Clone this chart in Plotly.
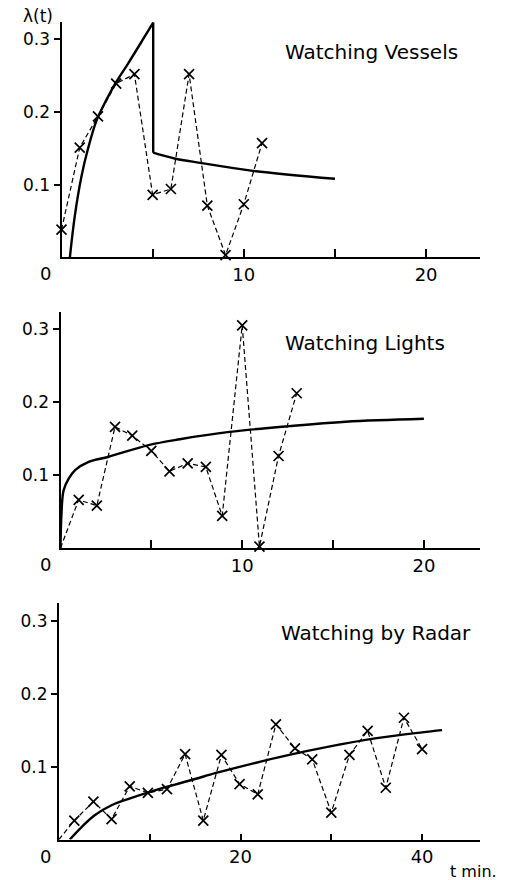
import plotly.graph_objects as go

W, H = 507, 880

# ---------------- data ----------------
# Watching Vessels
vessels_t = [0, 1, 2, 3, 4, 5, 6, 7, 8, 9, 10, 11]
vessels_obs = [0.038, 0.151, 0.194, 0.239, 0.252, 0.086, 0.094, 0.252, 0.071, 0.003, 0.073, 0.157]
vessels_rise_t = [0.46, 0.73, 1.1, 1.46, 1.92, 2.47, 2.97, 3.66, 4.4, 5.03]
vessels_rise_y = [0.0, 0.057, 0.112, 0.150, 0.188, 0.217, 0.240, 0.267, 0.297, 0.323]
vessels_drop_t = [5.03, 5.03]
vessels_drop_y = [0.323, 0.144]
vessels_decay_t = [5.03, 6.2, 7.6, 10.5, 15.0]
vessels_decay_y = [0.144, 0.136, 0.130, 0.119, 0.108]

# Watching Lights
lights_t = [0, 1, 2, 3, 3.95, 5, 6, 7, 8, 8.9, 10, 10.95, 12, 13]
lights_obs = [0.0, 0.066, 0.058, 0.166, 0.154, 0.133, 0.105, 0.116, 0.111, 0.044, 0.305, 0.002, 0.126, 0.212]
lights_marked = [False] + [True] * 13
lights_model_t = [0, 0.05, 0.17, 0.45, 0.82, 1.55, 2.65, 4.85, 6.57, 9.3, 12.6, 15.7, 20.0]
lights_model_y = [0.0, 0.045, 0.079, 0.095, 0.107, 0.118, 0.125, 0.141, 0.149, 0.159, 0.167, 0.173, 0.177]

# Watching by Radar
radar_t = [0, 1.7, 3.8, 5.8, 7.8, 9.8, 11.9, 13.9, 15.9, 17.9, 19.9, 21.9, 23.9, 26, 27.9, 30, 32, 34, 36, 38, 40]
radar_obs = [0.0, 0.026, 0.052, 0.028, 0.073, 0.064, 0.069, 0.117, 0.026, 0.116, 0.076, 0.062,
             0.158, 0.125, 0.110, 0.037, 0.116, 0.149, 0.071, 0.167, 0.124]
radar_marked = [False] + [True] * 20
radar_model_t = [1.2, 2.5, 3.9, 5.8, 8.0, 10.2, 12.4, 15.0, 17.2, 20.0, 25.0, 30.0, 35.0, 40.0, 42.2]
radar_model_y = [0.0, 0.017, 0.033, 0.047, 0.057, 0.066, 0.074, 0.083, 0.091, 0.100, 0.115, 0.128, 0.139, 0.147, 0.150]

y_ticks = [0.1, 0.2, 0.3]
y_ticktext = ["0.1", "0.2", "0.3"]
x_ticks_12 = [5, 10, 15, 20]
x_ticktext_12 = ["", "10", "", "20"]
x_ticks_3 = [10, 20, 30, 40]
x_ticktext_3 = ["", "20", "", "40"]
titles = ["Watching Vessels", "Watching Lights", "Watching by Radar"]

# ---------------- layout geometry (pixels) ----------------
# (x0_px, x_end_px, px_per_unit, y0_px, top_px, px_per_0.1)
panels = [
    (61.5, 480, 18.23, 257.3, 21.7, 72.67),
    (60.5, 480, 18.17, 548.0, 311.7, 73.0),
    (58.9, 480, 9.08, 839.5, 603.3, 72.9),
]

FONT = "DejaVu Sans"
fig = go.Figure()

line_solid = dict(color="black", width=2.4)
line_dash = dict(color="black", width=1.2, dash="5px,3px")
marker_x = dict(symbol="x-thin", size=10, color="black", line=dict(color="black", width=1.7))


def add_obs(t, y, marked, ax):
    xs = "x" if ax == 1 else f"x{ax}"
    ys = "y" if ax == 1 else f"y{ax}"
    fig.add_trace(go.Scatter(x=t, y=y, mode="lines", line=line_dash, xaxis=xs, yaxis=ys,
                             cliponaxis=False, showlegend=False, hoverinfo="skip"))
    mt = [a for a, m in zip(t, marked) if m]
    my = [b for b, m in zip(y, marked) if m]
    fig.add_trace(go.Scatter(x=mt, y=my, mode="markers", marker=marker_x, xaxis=xs, yaxis=ys,
                             cliponaxis=False, showlegend=False, hoverinfo="skip"))


def add_model(t, y, ax, shape="spline"):
    xs = "x" if ax == 1 else f"x{ax}"
    ys = "y" if ax == 1 else f"y{ax}"
    fig.add_trace(go.Scatter(x=t, y=y, mode="lines", line=dict(line_solid, shape=shape),
                             xaxis=xs, yaxis=ys, cliponaxis=False, showlegend=False, hoverinfo="skip"))


add_model(vessels_rise_t, vessels_rise_y, 1)
add_model(vessels_drop_t, vessels_drop_y, 1, shape="linear")
add_model(vessels_decay_t, vessels_decay_y, 1)
add_obs(vessels_t, vessels_obs, [True] * len(vessels_t), 1)

add_model(lights_model_t, lights_model_y, 2)
add_obs(lights_t, lights_obs, lights_marked, 2)

add_model(radar_model_t, radar_model_y, 3)
add_obs(radar_t, radar_obs, radar_marked, 3)

layout = dict(width=W, height=H, margin=dict(l=0, r=0, t=0, b=0),
              paper_bgcolor="white", plot_bgcolor="white", showlegend=False,
              font=dict(family=FONT, color="black"))

annotations = []
for i, (x0, xe, ppu, y0, top, p01) in enumerate(panels):
    k = "" if i == 0 else str(i + 1)
    xr = (xe - x0) / ppu
    yr = (y0 - top) / (p01 * 10)
    xt = x_ticks_12 if i < 2 else x_ticks_3
    xtt = x_ticktext_12 if i < 2 else x_ticktext_3
    layout["xaxis" + k] = dict(
        domain=[x0 / W, xe / W], range=[0, xr], anchor="y" + k,
        showgrid=False, zeroline=False, showline=True, linecolor="black", linewidth=2,
        ticks="inside", ticklen=8 if i < 2 else 6, tickwidth=1.5, tickcolor="black",
        tickvals=xt, ticktext=xtt, tickfont=dict(family=FONT, size=18, color="black"),
        fixedrange=True)
    layout["yaxis" + k] = dict(
        domain=[1 - y0 / H, 1 - top / H], range=[0, yr], anchor="x" + k,
        showgrid=False, zeroline=False, showline=True, linecolor="black", linewidth=2,
        ticks="outside", ticklen=6, tickwidth=1.5, tickcolor="black",
        tickvals=y_ticks, ticktext=y_ticktext, tickfont=dict(family=FONT, size=17, color="black"),
        fixedrange=True)
    # origin "0" label, set off to the lower left as in the original
    annotations.append(dict(text="0", xref="paper", yref="paper", x=45.5 / W, y=1 - (y0 + 16.5) / H,
                            xanchor="center", yanchor="middle", showarrow=False,
                            font=dict(family=FONT, size=18, color="black")))

title_pos = [(283, 51.7), (283, 343.3), (279, 632.5)]
for txt, (tx, ty) in zip(titles, title_pos):
    annotations.append(dict(text=txt, xref="paper", yref="paper", x=tx / W, y=1 - ty / H,
                            xanchor="left", yanchor="middle", showarrow=False,
                            font=dict(family=FONT, size=20, color="black")))

annotations.append(dict(text="λ(t)", xref="paper", yref="paper", x=38 / W, y=1 - 16 / H,
                        xanchor="center", yanchor="middle", showarrow=False,
                        font=dict(family=FONT, size=17, color="black")))
annotations.append(dict(text="t min.", xref="paper", yref="paper", x=448 / W, y=1 - 871 / H,
                        xanchor="left", yanchor="middle", showarrow=False,
                        font=dict(family=FONT, size=16, color="black")))
layout["annotations"] = annotations

fig.update_layout(**layout)
fig.write_html("out.html")
